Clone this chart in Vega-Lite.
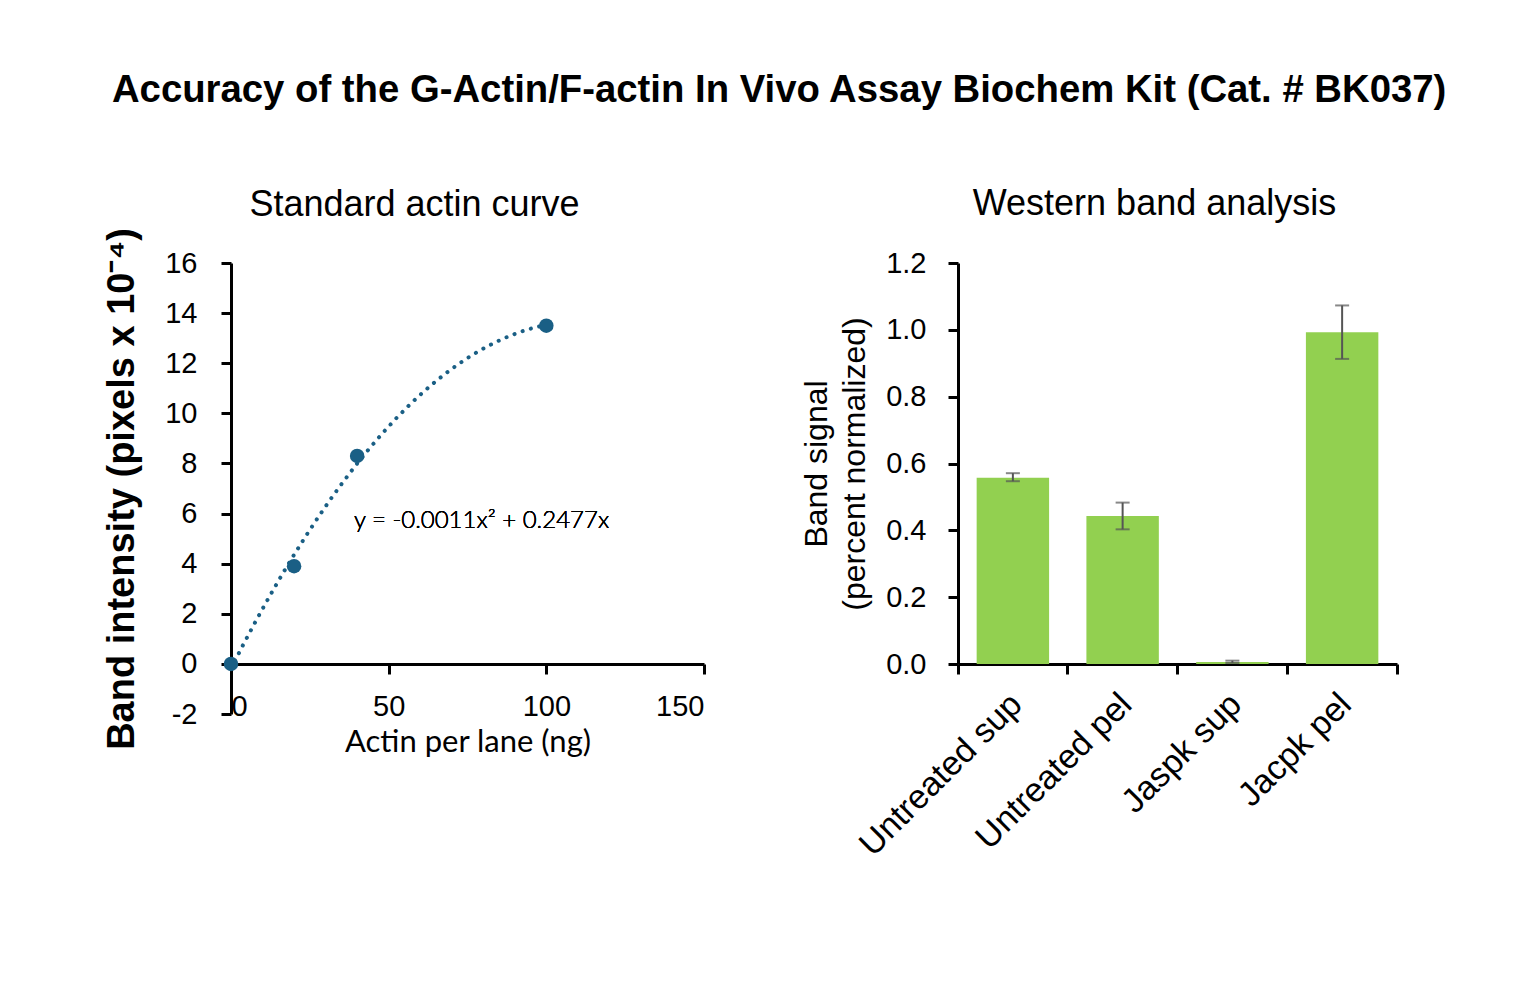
{
  "$schema": "https://vega.github.io/schema/vega-lite/v6.json",
  "background": "white",
  "padding": {"top": 70, "left": 103, "right": 20, "bottom": 20},
  "title": {
    "text": "Accuracy of the G-Actin/F-actin In Vivo Assay Biochem Kit (Cat. # BK037)",
    "font": "Liberation Sans",
    "fontSize": 38.3,
    "fontWeight": "bold",
    "color": "black",
    "anchor": "middle",
    "dx": 28,
    "offset": 76
  },
  "datasets": {
    "curve": [
      {"actin": 0, "intensity": 0},
      {"actin": 20, "intensity": 3.9},
      {"actin": 40, "intensity": 8.3},
      {"actin": 100, "intensity": 13.5}
    ],
    "bands": [
      {"sample": "Untreated sup", "signal": 0.557, "lo": 0.547, "hi": 0.571},
      {"sample": "Untreated pel", "signal": 0.443, "lo": 0.403, "hi": 0.483},
      {"sample": "Jaspk sup", "signal": 0.006, "lo": 0.003, "hi": 0.010},
      {"sample": "Jacpk pel", "signal": 0.993, "lo": 0.913, "hi": 1.073}
    ]
  },
  "hconcat": [
    {
      "width": 473,
      "height": 451,
      "title": {
        "text": "Standard actin curve",
        "font": "Liberation Sans",
        "fontSize": 36,
        "fontWeight": "normal",
        "color": "black",
        "dx": -53,
        "offset": 4
      },
      "data": {"name": "curve"},
      "layer": [
        {
          "transform": [
            {"regression": "intensity", "on": "actin", "method": "poly", "order": 2}
          ],
          "mark": {
            "type": "line",
            "color": "#1a5f85",
            "strokeWidth": 4,
            "strokeDash": [0.1, 8.5],
            "strokeCap": "round"
          },
          "encoding": {
            "x": {
              "field": "actin",
              "type": "quantitative",
              "scale": {"domain": [0, 150], "nice": false},
              "axis": {
                "values": [0, 50, 100, 150],
                "offset": -50,
                "labelPadding": 18,
                "title": "Actin per lane (ng)",
                "titleFont": "Lato",
                "titleFontSize": 31,
                "titleFontWeight": 400,
                "titlePadding": 6
              }
            },
            "y": {
              "field": "intensity",
              "type": "quantitative",
              "scale": {"domain": [-2, 16], "nice": false},
              "axis": {
                "values": [-2, 0, 2, 4, 6, 8, 10, 12, 14, 16],
                "labelExpr": "replace(datum.label, '−', '-')",
                "labelPadding": 24,
                "title": "Band intensity (pixels x 10⁻⁴)",
                "titleFontSize": 38,
                "titleFontWeight": "bold",
                "titlePadding": 23
              }
            }
          }
        },
        {
          "mark": {"type": "circle", "size": 210, "opacity": 1, "color": "#1a5f85"},
          "encoding": {
            "x": {"field": "actin", "type": "quantitative"},
            "y": {"field": "intensity", "type": "quantitative"}
          }
        },
        {
          "mark": {
            "type": "text",
            "font": "Lato",
            "fontSize": 24,
            "fontWeight": 300,
            "align": "left",
            "baseline": "middle",
            "color": "black"
          },
          "encoding": {
            "x": {"datum": 39},
            "y": {"datum": 5.7},
            "text": {"value": "y = -0.0011x² + 0.2477x"}
          }
        }
      ]
    },
    {
      "width": 439,
      "height": 401,
      "title": {
        "text": "Western band analysis",
        "font": "Liberation Sans",
        "fontSize": 36,
        "fontWeight": "normal",
        "color": "black",
        "dx": -23,
        "offset": 26
      },
      "data": {"name": "bands"},
      "encoding": {
        "x": {
          "field": "sample",
          "type": "nominal",
          "sort": null,
          "scale": {"paddingInner": 0, "paddingOuter": 0},
          "axis": {
            "title": null,
            "bandPosition": 1,
            "tickExtra": true,
            "labelAngle": -45,
            "labelAlign": "right",
            "labelBaseline": "top",
            "labelOffset": -8,
            "labelPadding": 13,
            "labelLimit": 0,
            "labelFontSize": 34
          }
        }
      },
      "layer": [
        {
          "mark": {"type": "bar", "width": {"band": 0.66}, "color": "#92d050"},
          "encoding": {
            "y": {
              "field": "signal",
              "type": "quantitative",
              "title": ["Band signal", "(percent normalized)"],
              "scale": {"domain": [0, 1.2], "nice": false},
              "axis": {
                "values": [0, 0.2, 0.4, 0.6, 0.8, 1.0, 1.2],
                "format": ".1f",
                "labelPadding": 22,
                "titleFontSize": 32,
                "titleFontWeight": "normal",
                "titleLineHeight": 38,
                "titlePadding": 14
              }
            }
          }
        },
        {
          "mark": {
            "type": "errorbar",
            "color": "#555555",
            "thickness": 2,
            "ticks": {"size": 14, "thickness": 2, "color": "#555555"}
          },
          "encoding": {
            "y": {
              "field": "lo",
              "type": "quantitative",
              "title": ["Band signal", "(percent normalized)"]
            },
            "y2": {"field": "hi"}
          }
        }
      ]
    }
  ],
  "spacing": 94,
  "config": {
    "font": "Liberation Sans",
    "view": {"stroke": null},
    "axis": {
      "grid": false,
      "domainColor": "black",
      "domainWidth": 3,
      "tickColor": "black",
      "tickWidth": 3,
      "tickSize": 10,
      "labelFont": "Liberation Sans",
      "labelFontSize": 29,
      "labelColor": "black",
      "titleFont": "Liberation Sans",
      "titleColor": "black"
    }
  }
}
